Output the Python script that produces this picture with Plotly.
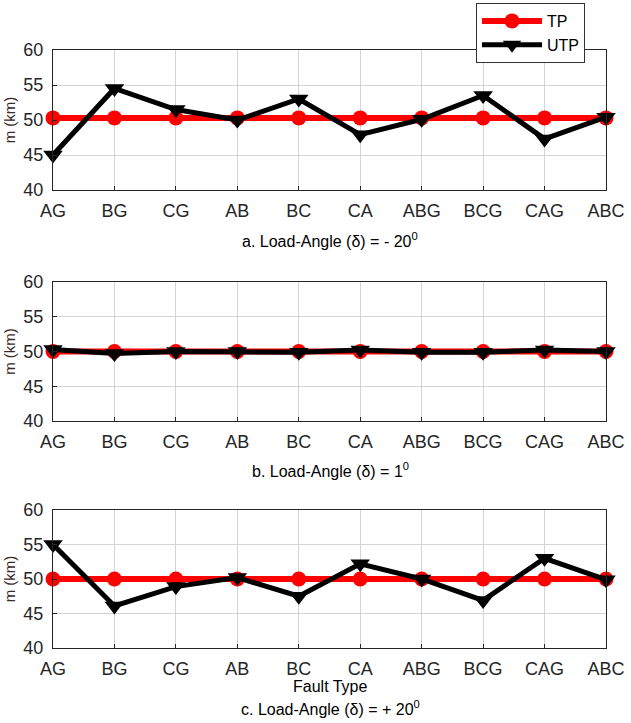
import plotly.graph_objects as go

fault_types = ["AG", "BG", "CG", "AB", "BC", "CA", "ABG", "BCG", "CAG", "ABC"]

tp_a = [50.3, 50.3, 50.3, 50.3, 50.3, 50.3, 50.3, 50.3, 50.3, 50.3]
utp_a = [45.0, 54.5, 51.5, 50.0, 53.0, 47.9, 50.1, 53.5, 47.3, 50.4]

tp_b = [50.0, 50.0, 50.0, 50.0, 50.0, 50.0, 50.0, 50.0, 50.0, 50.0]
utp_b = [50.3, 49.7, 50.0, 50.0, 49.9, 50.2, 49.9, 49.9, 50.2, 50.0]

tp_c = [50.0, 50.0, 50.0, 50.0, 50.0, 50.0, 50.0, 50.0, 50.0, 50.0]
utp_c = [55.0, 46.1, 48.9, 50.2, 47.5, 52.2, 50.0, 46.9, 53.0, 49.9]

y_ticks = [40, 45, 50, 55, 60]
captions = ["a. Load-Angle (δ) = - 20<sup>0</sup>",
            "b. Load-Angle (δ) = 1<sup>0</sup>",
            "c. Load-Angle (δ) = + 20<sup>0</sup>"]

W, H = 631, 723
FONT = "Liberation Sans, Arial, sans-serif"

# panel pixel boxes (top, bottom)
panels = [(50, 190), (282, 421), (510, 648)]
x_left, x_right = 53, 606

fig = go.Figure()
series = [(tp_a, utp_a), (tp_b, utp_b), (tp_c, utp_c)]
xs = list(range(len(fault_types)))

for i, (tp, utp) in enumerate(series):
    n = "" if i == 0 else str(i + 1)
    fig.add_trace(go.Scatter(
        x=xs, y=tp, mode="lines+markers", name="TP", showlegend=(i == 0),
        line=dict(color="#ff0000", width=6),
        marker=dict(symbol="circle", size=15, color="#ff0000"),
        xaxis="x" + n, yaxis="y" + n, cliponaxis=False))
    fig.add_trace(go.Scatter(
        x=xs, y=utp, mode="lines+markers", name="UTP", showlegend=(i == 0),
        line=dict(color="#000000", width=5),
        marker=dict(symbol="triangle-down", size=17, color="#000000"),
        xaxis="x" + n, yaxis="y" + n, cliponaxis=False))

layout = dict(
    width=W, height=H,
    margin=dict(l=0, r=0, t=0, b=0, autoexpand=False),
    paper_bgcolor="white", plot_bgcolor="white",
    font=dict(family=FONT, color="#262626"),
    showlegend=True,
    legend=dict(x=476 / W, y=1 - 3 / H, xanchor="left", yanchor="top",
                bordercolor="#333333", borderwidth=1, bgcolor="white",
                font=dict(size=16, color="#000000", family=FONT),
                tracegroupgap=0, itemwidth=60, entrywidth=70, entrywidthmode="pixels"),
)

annotations = []
for i, (top, bot) in enumerate(panels):
    n = "" if i == 0 else str(i + 1)
    xd = [x_left / W, x_right / W]
    yd = [1 - bot / H, 1 - top / H]
    layout["xaxis" + n] = dict(
        domain=xd, range=[0, 9], tickmode="array", tickvals=xs, ticktext=fault_types,
        showgrid=True, gridcolor="#d4d4d4", gridwidth=1, zeroline=False,
        showline=True, linecolor="#262626", linewidth=1, mirror=True,
        ticks="inside", ticklen=4, tickcolor="#262626", ticklabelstandoff=4,
        tickfont=dict(size=18, family=FONT, color="#262626"),
        anchor="y" + n, fixedrange=True, automargin=False)
    layout["yaxis" + n] = dict(
        domain=yd, range=[40, 60], tickmode="array", tickvals=y_ticks,
        showgrid=True, gridcolor="#d4d4d4", gridwidth=1, zeroline=False,
        showline=True, linecolor="#262626", linewidth=1, mirror=True,
        ticks="inside", ticklen=4, tickcolor="#262626", ticklabelstandoff=5,
        tickfont=dict(size=18, family=FONT, color="#262626"),
        title=dict(text="m (km)", font=dict(size=15, family=FONT, color="#3a2a2a"), standoff=4),
        anchor="x" + n, fixedrange=True, automargin=False)

cap_y = [240, 470, 708]
for i, cy in enumerate(cap_y):
    annotations.append(dict(text=captions[i], x=330 / W, y=1 - cy / H, xref="paper", yref="paper",
                            showarrow=False, xanchor="center", yanchor="middle",
                            font=dict(size=16, family=FONT, color="#000000")))
annotations.append(dict(text="Fault Type", x=330 / W, y=1 - 686 / H, xref="paper", yref="paper",
                        showarrow=False, xanchor="center", yanchor="middle",
                        font=dict(size=16, family=FONT, color="#000000")))
layout["annotations"] = annotations

fig.update_layout(**layout)
fig.write_html("out.html", config={"displayModeBar": False},
               post_script="document.body.style.margin='0';document.body.style.overflow='hidden';")
